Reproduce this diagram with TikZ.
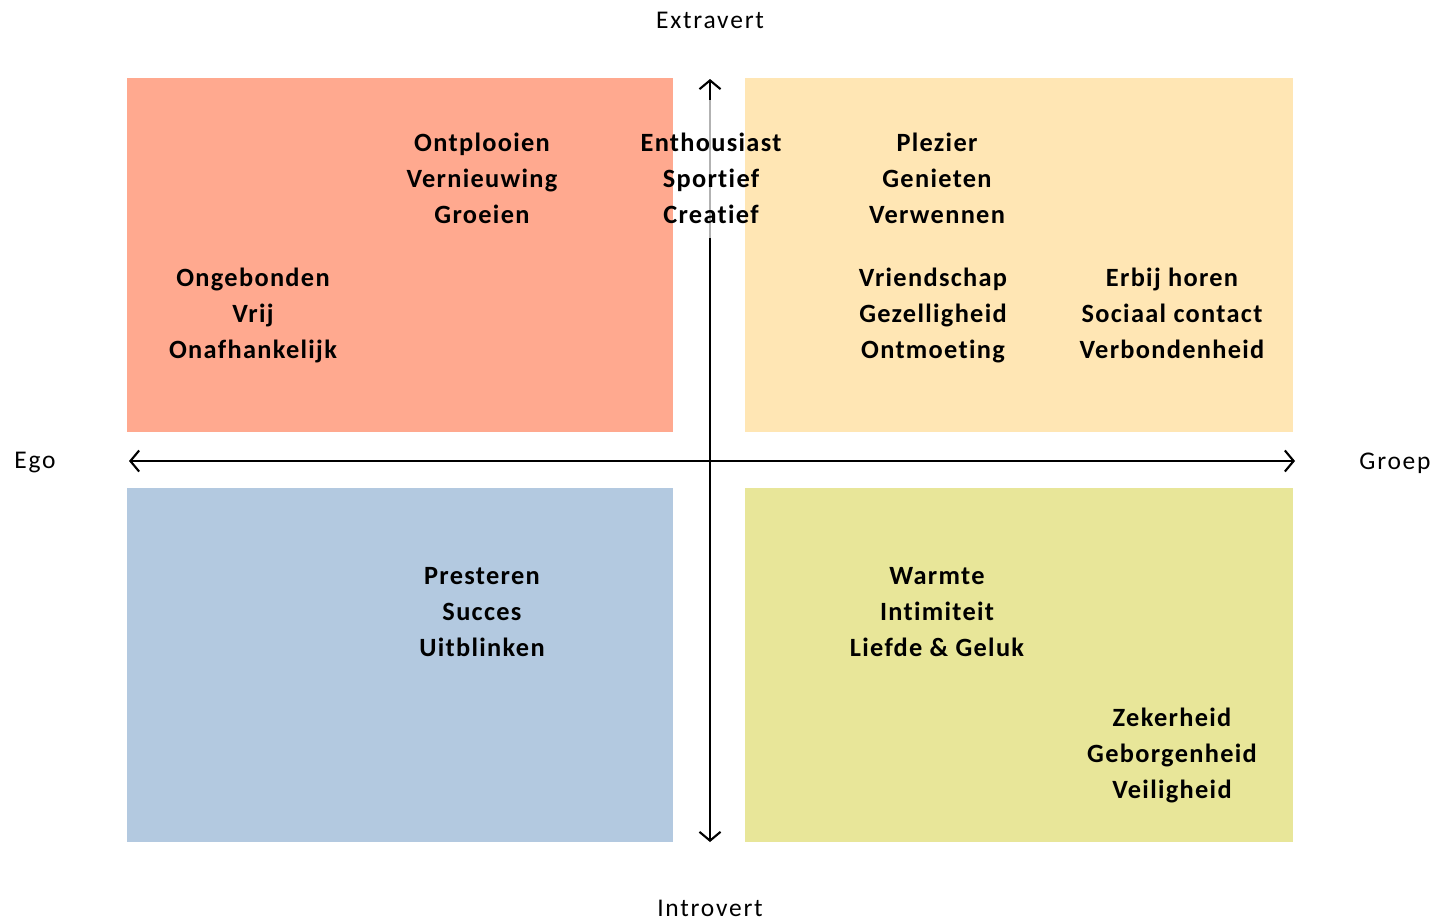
\documentclass[tikz,border=0pt]{standalone}
\usepackage{fontspec}
\setmainfont{Carlito}
\newfontfamily\spacedfont[LetterSpace=5, Ligatures=NoCommon]{Carlito}
\newfontfamily\axisfont[LetterSpace=7, Ligatures=NoCommon]{Carlito}
\usetikzlibrary{arrows.meta}

\definecolor{salmon}{RGB}{255,169,143}
\definecolor{peach}{RGB}{255,230,180}
\definecolor{steel}{RGB}{179,201,224}
\definecolor{khaki}{RGB}{232,230,153}

\tikzset{
  value/.style={align=center, inner sep=1pt, font=\spacedfont\fontsize{15}{20.5}\selectfont\bfseries},
  axislabel/.style={font=\axisfont\fontsize{14.5}{17}\selectfont},
  axis/.style={line width=1.2pt, {Straight Barb[length=5pt,width=12pt]}-{Straight Barb[length=5pt,width=12pt]}},
  faded/.style={line width=1.2pt, black!30}
}

\begin{document}
\begin{tikzpicture}[x=0.02cm, y=-0.02cm]
  \useasboundingbox (0,0) rectangle (1432,923);

  \fill[salmon] (127,78) rectangle (673,432);
  \fill[peach] (745,78) rectangle (1293,432);
  \fill[steel] (127,488) rectangle (673,842);
  \fill[khaki] (745,488) rectangle (1293,842);

  \coordinate (ego) at (129,461);
  \coordinate (groep) at (1295,461);
  \coordinate (top) at (710,79);
  \coordinate (bottom) at (710,842);
  \coordinate (fadetop) at (710,100);
  \coordinate (fadebottom) at (710,238);

  \draw[axis] (ego) -- (groep);
  \draw[axis] (bottom) -- (top);
  \draw[faded] (fadetop) -- (fadebottom);

  \node[axislabel] (extravert) at (710,20) {Extravert};
  \node[axislabel] (introvert) at (710,908) {Introvert};
  \node[axislabel] (egolabel) at (35,463) {Ego};
  \node[axislabel] (groeplabel) at (1395,463) {Groep};

  \node[value] (ontplooien) at (482,178) {Ontplooien\\Vernieuwing\\Groeien};
  \node[value] (enthousiast) at (711,178) {Enthousiast\\Sportief\\Creatief};
  \node[value] (plezier) at (937,178) {Plezier\\Genieten\\Verwennen};
  \node[value] (ongebonden) at (253,315) {Ongebonden\\Vrij\\Onafhankelijk};
  \node[value] (vriendschap) at (933,315) {Vriendschap\\Gezelligheid\\Ontmoeting};
  \node[value] (erbij) at (1172,313) {Erbij horen\\Sociaal contact\\Verbondenheid};
  \node[value] (presteren) at (482,612) {Presteren\\Succes\\Uitblinken};
  \node[value] (warmte) at (937,612) {Warmte\\Intimiteit\\Liefde \& Geluk};
  \node[value] (zekerheid) at (1172,755) {Zekerheid\\Geborgenheid\\Veiligheid};
\end{tikzpicture}
\end{document}
